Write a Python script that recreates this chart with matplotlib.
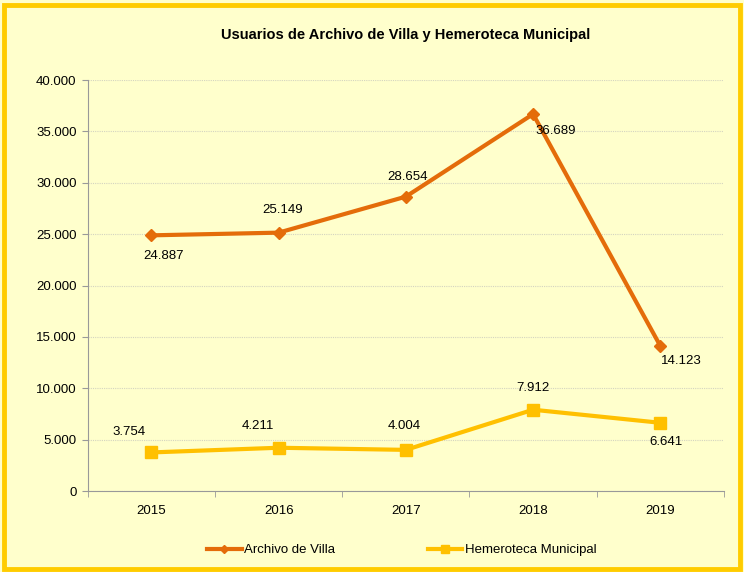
import numpy as np
import matplotlib
matplotlib.use("Agg")
import matplotlib.pyplot as plt
from matplotlib.patches import Rectangle
from matplotlib.ticker import FuncFormatter

plt.rcParams["font.family"] = ["Liberation Sans", "DejaVu Sans"]

years = ["2015", "2016", "2017", "2018", "2019"]
archivo = [24887, 25149, 28654, 36689, 14123]
hemeroteca = [3754, 4211, 4004, 7912, 6641]
# label offsets in points (dx, dy)
archivo_off = [(9, -15), (3, 16), (1, 14), (16, -12), (15, -11)]
hemeroteca_off = [(-16, 15), (-15, 16), (-1, 17), (0, 16), (4, -14)]

ORANGE = "#E46C0A"
GOLD = "#FFC000"
BG = "#FFFFCC"


def fmt(v):
    return f"{v:,.0f}".replace(",", ".")


fig = plt.figure(figsize=(7.44, 5.72), dpi=100)
fig.patch.set_facecolor(BG)
fig.patches.append(Rectangle((0.006, 0.006), 0.988, 0.986, transform=fig.transFigure,
                             fill=False, edgecolor="#FFCC00", linewidth=3.5))
ax = fig.add_axes([0.118, 0.1416, 0.855, 0.7184])
ax.set_facecolor(BG)

x = np.arange(len(years))
ax.plot(x, archivo, color=ORANGE, lw=3, marker="D", ms=6, label="Archivo de Villa")
ax.plot(x, hemeroteca, color=GOLD, lw=3, marker="s", ms=8, label="Hemeroteca Municipal")

for i in range(len(years)):
    ax.annotate(fmt(archivo[i]), (x[i], archivo[i]), xytext=archivo_off[i],
                textcoords="offset points", ha="center", va="center", fontsize=9.5)
    ax.annotate(fmt(hemeroteca[i]), (x[i], hemeroteca[i]), xytext=hemeroteca_off[i],
                textcoords="offset points", ha="center", va="center", fontsize=9.5)

ax.set_xlim(-0.5, len(years) - 0.5)
ax.set_ylim(0, 40000)
ax.set_yticks(np.arange(0, 40001, 5000))
ax.yaxis.set_major_formatter(FuncFormatter(lambda v, p: fmt(v)))
ax.set_xticks(x)
ax.set_xticklabels(years)
ax.set_xticks(np.arange(-0.5, len(years), 1), minor=True)
ax.tick_params(axis="x", which="major", length=0, pad=10, labelsize=9.5)
ax.tick_params(axis="x", which="minor", length=4, color="#999999")
ax.tick_params(axis="y", length=4, color="#999999", labelsize=9.5, pad=4)
ax.grid(axis="y", color="#D4D4C0", linestyle=(0, (1, 1)), linewidth=0.8)
for s in ["top", "right"]:
    ax.spines[s].set_visible(False)
for s in ["left", "bottom"]:
    ax.spines[s].set_color("#999999")

ax.set_title("Usuarios de Archivo de Villa y Hemeroteca Municipal",
             fontsize=10.5, fontweight="bold", pad=29.5)

fig.legend(loc="center", bbox_to_anchor=(0.54, 0.038), ncol=2, frameon=False,
           fontsize=9.5, columnspacing=7.0, handlelength=2.6, handletextpad=0.2,
           markerscale=0.7)

fig.savefig("out.png", dpi=100, facecolor=BG)
